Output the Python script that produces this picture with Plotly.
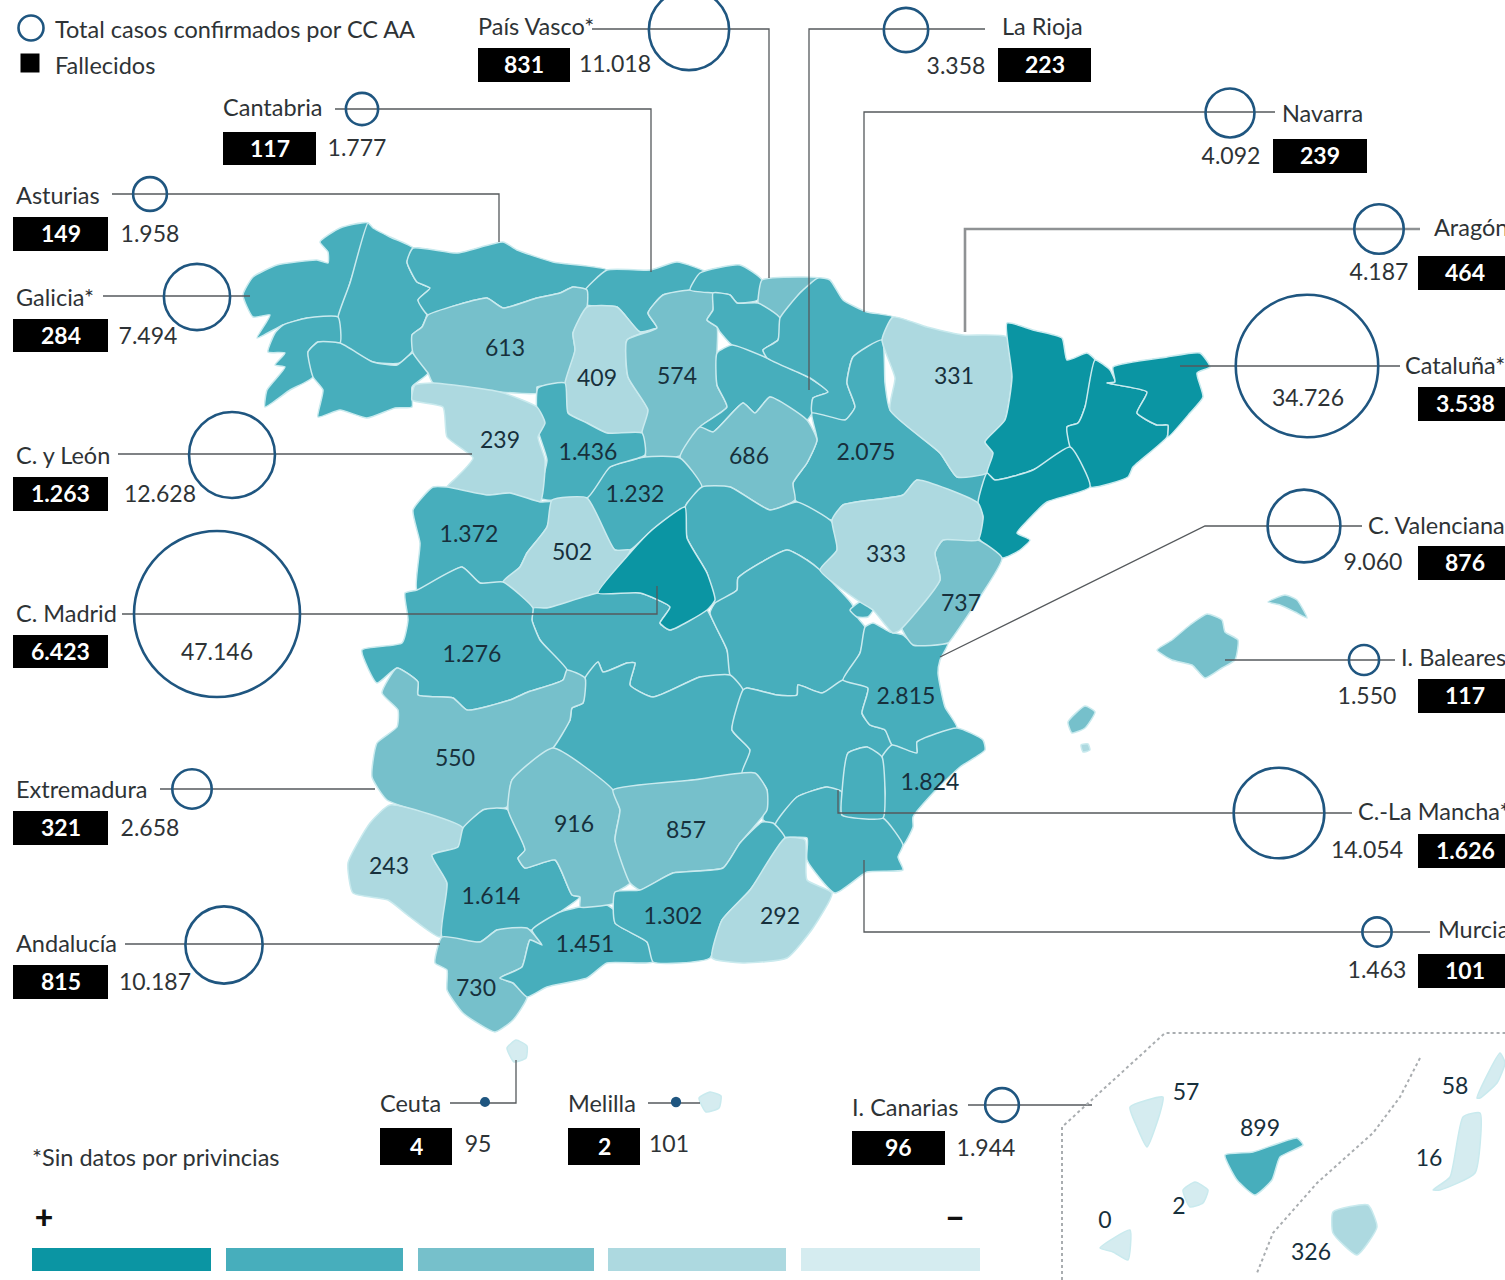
import math
import plotly.graph_objects as go

# ---------- categories and values ----------
ccaa_names = ["Asturias", "Cantabria", "País Vasco*", "La Rioja", "Navarra", "Aragón", "Cataluña*", "C. Valenciana",
              "I. Baleares", "C.-La Mancha*", "Murcia", "Galicia*", "C. y León", "C. Madrid", "Extremadura",
              "Andalucía", "Ceuta", "Melilla", "I. Canarias"]
ccaa_deaths = ["149", "117", "831", "223", "239", "464", "3.538", "876", "117", "1.626", "101", "284", "1.263",
               "6.423", "321", "815", "4", "2", "96"]
ccaa_cases = [1958, 1777, 11018, 3358, 4092, 4187, 34726, 9060, 1550, 14054, 1463, 7494, 12628, 47146, 2658, 10187,
              95, 101, 1944]
ccaa_case_labels = ["1.958", "1.777", "11.018", "3.358", "4.092", "4.187", "34.726", "9.060", "1.550", "14.054",
                    "1.463", "7.494", "12.628", "47.146", "2.658", "10.187", "95", "101", "1.944"]

# name label left edge / middle
name_x = [16, 223, 478, 1002, 1282, 1434, 1405, 1368, 1401, 1358, 1438, 16, 16, 16, 16, 16, 380, 568, 852]
name_y = [196, 108, 27, 27, 114, 228, 366, 526, 658, 812, 930, 298, 456, 614, 790, 944, 1104, 1104, 1108]
# circle centres
circle_x = [150, 362, 689, 906, 1230, 1379, 1307, 1304, 1364, 1279, 1377, 197, 232, 217, 192, 224, 485, 676, 1002]
circle_y = [194, 109, 30, 30, 113, 229, 366, 526, 660, 813, 932, 297, 455, 614, 789, 945, 1102, 1102, 1105]
# case label centres
case_x = [150, 357, 615, 956, 1231, 1379, 1308, 1373, 1367, 1367, 1377, 148, 160, 217, 150, 155, 478, 669, 986]
case_y = [234, 148, 64, 66, 156, 272, 398, 562, 696, 850, 970, 336, 494, 652, 828, 982, 1144, 1144, 1148]
# black boxes: left, right, top, bottom
box_x0 = [13, 223, 478, 998, 1273, 1418, 1418, 1418, 1418, 1418, 1418, 13, 13, 13, 13, 13, 380, 568, 852]
box_x1 = [108, 316, 570, 1091, 1367, 1512, 1512, 1512, 1512, 1512, 1512, 108, 108, 108, 108, 108, 452, 640, 945]
box_y0 = [217, 132, 48, 48, 139, 256, 387, 546, 679, 834, 954, 319, 477, 635, 811, 965, 1128, 1128, 1131]
box_y1 = [251, 165, 82, 82, 173, 290, 421, 580, 713, 868, 988, 352, 511, 668, 845, 999, 1165, 1165, 1165]

leader_lines = [
    [(112, 194), (499, 194), (499, 242)],
    [(335, 109), (651, 109), (651, 272)],
    [(592, 29), (769, 29), (769, 278)],
    [(985, 29), (809, 29), (809, 390)],
    [(1275, 112), (864, 112), (864, 312)],
    [(1400, 366), (1180, 366)],
    [(1362, 526), (1205, 526), (940, 657)],
    [(1395, 660), (1225, 660)],
    [(1352, 813), (838, 813), (838, 790)],
    [(1430, 932), (864, 932), (864, 860)],
    [(103, 296), (250, 296)],
    [(118, 454), (472, 454)],
    [(122, 614), (657, 614), (657, 586)],
    [(160, 789), (375, 789)],
    [(125, 944), (440, 944)],
    [(450, 1103), (516, 1103), (516, 1060)],
    [(648, 1103), (700, 1103)],
    [(968, 1105), (1092, 1105)],
]
aragon_line = [(1420, 229), (965, 229), (965, 332)]

province_labels = ["613", "409", "574", "331", "686", "2.075", "239", "1.436", "1.232", "1.372", "502", "333", "737",
                   "1.276", "2.815", "550", "916", "857", "1.824", "243", "1.614", "1.302", "292", "1.451", "730",
                   "57", "899", "58", "16", "2", "0", "326"]
province_label_x = [505, 597, 677, 954, 749, 866, 500, 588, 635, 469, 572, 886, 961, 472, 906, 455, 574, 686, 930,
                    389, 491, 673, 780, 585, 476, 1186, 1260, 1455, 1429, 1179, 1105, 1311]
province_label_y = [348, 378, 376, 376, 456, 452, 440, 452, 494, 534, 552, 554, 603, 654, 696, 758, 824, 830, 782,
                    866, 896, 916, 916, 944, 988, 1092, 1128, 1086, 1158, 1206, 1220, 1252]

# ---------- map outlines (level 5 = most cases, 1 = fewest) ----------
provinces = [
    ("A Coruña", 4, [(243,295),(253,277),(277,265),(317,260),(328,263),(328,252),(320,242),(340,228),(368,223),(350,283),(338,317),(307,318),(283,325),(257,338),(270,315),(253,317)]),
    ("Lugo", 4, [(368,223),(373,228),(390,237),(413,248),(407,262),(417,282),(430,288),(418,300),(427,313),(422,327),(412,335),(413,350),(400,363),(373,362),(340,343),(338,317),(350,283)]),
    ("Pontevedra", 4, [(338,317),(340,343),(318,342),(308,352),(313,377),(290,390),(265,407),(267,390),(285,367),(275,365),(285,353),(268,352),(275,333),(283,325),(307,318)]),
    ("Ourense", 4, [(318,342),(340,343),(373,362),(397,365),(413,353),(428,373),(412,387),(412,407),(395,408),(367,418),(340,410),(318,417),(323,390),(313,377),(308,352)]),
    ("Asturias", 4, [(413,248),(457,253),(503,242),(517,250),(553,262),(607,270),(587,290),(573,287),(560,293),(537,298),(503,308),(487,298),(457,305),(428,315),(418,300),(430,288),(417,282),(407,262)]),
    ("Cantabria", 4, [(607,270),(650,270),(677,262),(707,273),(690,290),(663,295),(648,313),(657,328),(640,332),(617,307),(587,305),(583,293)]),
    ("León", 3, [(428,315),(457,305),(487,298),(503,308),(537,298),(560,293),(573,287),(587,290),(587,307),(573,333),(575,350),(565,383),(537,387),(537,393),(500,392),(433,383),(428,373),(413,353),(412,335),(422,327)]),
    ("Palencia", 2, [(587,307),(617,307),(640,332),(657,328),(627,340),(628,377),(648,410),(642,432),(607,433),(587,423),(568,413),(565,383),(575,350),(573,333)]),
    ("Burgos", 3, [(657,328),(648,313),(663,295),(690,290),(713,293),(713,310),(707,320),(717,327),(717,353),(717,385),(727,407),(700,427),(683,455),(647,458),(642,432),(648,410),(628,377),(627,340)]),
    ("Bizkaia", 4, [(690,290),(700,273),(740,265),(762,280),(758,300),(737,303),(730,295),(713,293)]),
    ("Gipuzkoa", 3, [(762,280),(800,277),(818,278),(800,293),(780,318),(758,303),(758,300)]),
    ("Álava", 4, [(713,293),(730,295),(737,303),(758,303),(780,318),(778,340),(763,350),(767,358),(732,345),(720,332),(717,327),(707,320),(713,310)]),
    ("La Rioja", 4, [(717,353),(732,345),(767,358),(810,378),(828,392),(813,398),(812,413),(807,420),(770,397),(755,413),(743,403),(713,432),(700,427),(727,407),(717,385)]),
    ("Navarra", 4, [(818,278),(830,280),(843,300),(867,312),(893,317),(882,340),(853,357),(847,383),(855,407),(845,420),(812,413),(813,398),(828,392),(810,378),(767,358),(763,350),(778,340),(780,318),(800,293)]),
    ("Zaragoza", 4, [(853,357),(882,340),(885,383),(890,410),(940,453),(957,477),(987,473),(978,503),(917,480),(903,495),(843,505),(832,520),(795,500),(793,483),(807,463),(817,440),(812,413),(845,420),(855,407),(847,383)]),
    ("Huesca", 2, [(893,317),(927,327),(963,335),(1007,337),(1012,377),(1005,420),(985,442),(993,453),(987,473),(957,477),(940,453),(890,410),(895,378),(882,340)]),
    ("Lleida", 5, [(1007,323),(1033,330),(1062,338),(1067,360),(1087,353),(1095,360),(1085,407),(1078,423),(1067,427),(1070,447),(1033,470),(995,480),(987,473),(993,453),(985,442),(1005,420),(1012,377)]),
    ("Barcelona", 5, [(1095,360),(1110,370),(1115,382),(1107,383),(1147,392),(1137,413),(1157,425),(1168,425),(1167,437),(1133,467),(1128,477),(1090,487),(1070,447),(1067,427),(1078,423),(1085,407)]),
    ("Girona", 5, [(1113,367),(1167,357),(1200,353),(1210,367),(1197,373),(1203,397),(1190,413),(1168,437),(1168,425),(1157,425),(1137,413),(1147,392),(1107,383),(1115,382)]),
    ("Tarragona", 5, [(995,480),(1033,470),(1070,447),(1090,487),(1047,502),(1028,520),(1017,533),(1030,540),(1020,550),(1002,558),(978,537),(983,517),(978,503),(987,473)]),
    ("Soria", 3, [(713,432),(743,403),(755,413),(770,397),(807,420),(817,440),(807,463),(793,483),(795,500),(770,510),(730,487),(702,487),(680,457),(700,427)]),
    ("Segovia", 4, [(587,498),(610,467),(645,457),(680,458),(702,487),(687,503),(685,507),(652,530),(630,550),(615,550)]),
    ("Valladolid", 4, [(538,388),(565,383),(568,413),(587,423),(607,433),(642,433),(645,455),(610,467),(587,498),(540,498),(547,460),(538,430)]),
    ("Zamora", 2, [(412,400),(415,385),(433,383),(500,392),(537,407),(545,423),(538,437),(545,460),(540,502),(510,493),(488,495),(447,487),(457,477),(473,458),(447,437),(443,407)]),
    ("Salamanca", 4, [(413,510),(433,487),(447,487),(488,495),(510,493),(540,502),(552,502),(547,527),(527,553),(520,567),(503,582),(480,583),(462,567),(417,590),(420,543)]),
    ("Ávila", 2, [(552,500),(587,498),(615,550),(630,550),(598,593),(547,608),(533,608),(503,582),(520,567),(527,553),(547,527)]),
    ("Guadalajara", 4, [(685,507),(702,487),(730,487),(770,510),(797,502),(832,522),(837,550),(820,570),(807,560),(787,550),(738,578),(737,590),(715,603),(707,573),(687,538)]),
    ("Toledo", 4, [(533,608),(547,608),(598,593),(640,593),(670,607),(660,623),(670,630),(707,610),(710,615),(727,650),(730,677),(700,677),(653,697),(630,685),(635,663),(627,663),(603,672),(598,662),(585,678),(567,670),(540,640),(532,620)]),
    ("Madrid", 5, [(685,507),(687,538),(707,573),(715,600),(707,610),(670,630),(660,623),(670,607),(640,593),(598,593),(630,553),(652,530)]),
    ("Cuenca", 4, [(710,613),(715,603),(737,590),(738,578),(787,550),(807,560),(820,570),(852,604),(857,617),(865,627),(860,653),(843,680),(822,693),(798,685),(797,695),(777,695),(747,688),(743,690),(730,675),(727,650)]),
    ("Ciudad Real", 4, [(585,678),(598,662),(603,672),(627,663),(635,663),(630,685),(653,697),(700,677),(730,675),(743,690),(732,730),(750,750),(743,773),(693,780),(613,790),(553,748),(570,720),(572,708),(583,703)]),
    ("Albacete", 4, [(743,690),(747,688),(777,695),(797,695),(798,685),(822,693),(843,680),(868,688),(862,713),(870,725),(885,730),(892,745),(882,757),(867,747),(848,753),(842,792),(827,787),(797,797),(775,825),(763,820),(767,790),(757,777),(742,773),(750,750),(732,730)]),
    ("Ademuz", 4, [(850,610),(860,602),(873,610),(868,617),(857,617)]),
    ("Valencia", 4, [(865,627),(873,623),(890,632),(903,635),(913,643),(948,643),(940,660),(938,673),(945,707),(957,728),(917,742),(917,753),(892,745),(885,730),(870,725),(862,713),(868,688),(843,680),(860,653)]),
    ("Castellón", 3, [(943,540),(978,540),(1002,558),(980,597),(953,637),(948,643),(913,645),(900,623),(940,580),(935,553)]),
    ("Teruel", 2, [(917,480),(978,503),(983,517),(978,540),(943,540),(935,553),(940,580),(900,630),(893,633),(873,610),(860,602),(820,570),(837,550),(832,520),(843,505),(903,495)]),
    ("Alicante", 4, [(957,728),(983,740),(985,750),(960,767),(933,793),(913,817),(913,827),(903,845),(883,818),(885,793),(882,757),(892,745),(917,753),(917,742)]),
    ("Murcia", 4, [(883,818),(903,845),(898,857),(903,870),(867,872),(835,893),(807,860),(807,838),(782,837),(775,825),(797,797),(827,787),(842,792),(842,815)]),
    ("Murcia-norte", 4, [(848,753),(867,747),(882,757),(885,793),(883,818),(842,815),(842,792)]),
    ("Cáceres", 4, [(462,567),(480,583),(503,582),(533,608),(532,620),(540,640),(567,670),(563,680),(528,692),(510,700),(467,710),(453,698),(418,695),(418,682),(397,668),(377,683),(362,650),(402,643),(408,620),(405,593),(417,590)]),
    ("Badajoz", 3, [(397,668),(418,682),(418,695),(453,698),(467,710),(510,700),(528,692),(563,680),(567,670),(585,678),(583,703),(572,708),(570,720),(553,748),(512,780),(507,807),(483,810),(463,828),(423,813),(387,800),(372,777),(377,743),(397,727),(398,710),(382,693)]),
    ("Huelva", 2, [(390,805),(463,828),(458,847),(432,855),(447,883),(440,937),(410,917),(388,900),(353,893),(348,863),(370,823)]),
    ("Sevilla", 4, [(432,855),(458,847),(463,828),(483,810),(497,808),(508,810),(525,850),(518,858),(525,868),(555,860),(572,895),(580,897),(560,912),(532,930),(497,930),(480,942),(442,937),(447,883)]),
    ("Cádiz", 3, [(442,937),(480,942),(497,930),(527,928),(542,945),(530,940),(522,967),(500,978),(513,983),(527,997),(513,1020),(495,1032),(463,1013),(447,990),(447,970),(435,963)]),
    ("Málaga", 4, [(560,912),(580,907),(607,905),(617,913),(615,923),(647,942),(653,962),(607,963),(587,978),(547,987),(527,997),(513,983),(500,978),(522,967),(530,940),(542,945),(532,930)]),
    ("Córdoba", 3, [(553,748),(613,790),(620,810),(615,840),(630,883),(617,892),(615,903),(607,905),(580,907),(580,897),(572,895),(555,860),(525,868),(518,858),(525,850),(508,810),(512,780)]),
    ("Jaén", 3, [(613,790),(693,780),(755,773),(767,790),(767,810),(740,843),(723,868),(673,873),(640,890),(630,883),(615,840),(620,810)]),
    ("Granada", 4, [(615,892),(640,890),(673,873),(723,868),(740,843),(762,822),(773,823),(785,838),(750,890),(722,920),(710,958),(680,963),(653,962),(647,942),(615,923)]),
    ("Almería", 2, [(785,838),(805,840),(807,880),(832,893),(813,928),(787,958),(743,963),(712,958),(722,920),(750,890)]),
    ("Mallorca", 3, [(1157,650),(1172,640),(1190,625),(1207,614),(1222,620),(1225,632),(1238,640),(1235,660),(1222,668),(1205,678),(1192,665),(1172,660)]),
    ("Menorca", 3, [(1268,602),(1285,595),(1297,600),(1307,618),(1295,612),(1280,605)]),
    ("Ibiza", 3, [(1068,722),(1085,706),(1095,712),(1085,728),(1072,733)]),
    ("Formentera", 2, [(1081,745),(1088,744),(1090,750),(1083,752)]),
    ("Ceuta", 1, [(507,1048),(516,1040),(527,1046),(526,1058),(514,1062)]),
    ("Melilla", 1, [(699,1098),(710,1092),(721,1096),(719,1108),(706,1112)]),
    ("Tenerife", 4, [(1225,1155),(1253,1152),(1297,1138),(1303,1145),(1280,1157),(1272,1180),(1255,1195),(1237,1180)]),
    ("La Palma", 1, [(1130,1107),(1163,1097),(1160,1113),(1147,1147),(1137,1127)]),
    ("La Gomera", 1, [(1183,1190),(1195,1182),(1208,1190),(1203,1203),(1190,1207)]),
    ("El Hierro", 1, [(1100,1248),(1130,1230),(1128,1260),(1113,1252)]),
    ("Gran Canaria", 2, [(1333,1212),(1368,1205),(1377,1227),(1357,1255),(1333,1233)]),
    ("Fuerteventura", 1, [(1433,1190),(1450,1177),(1463,1117),(1480,1113),(1475,1173),(1440,1190)]),
    ("Lanzarote", 1, [(1477,1098),(1500,1053),(1505,1063),(1497,1083),(1480,1098)]),
]
level_colors = {5: "#0b95a3", 4: "#47aebc", 3: "#76c0cb", 2: "#add9e0", 1: "#d5ecf0"}
legend_levels = [5, 4, 3, 2, 1]
legend_bar_x0 = [32, 226, 418, 608, 801]
legend_bar_x1 = [211, 403, 594, 786, 980]

canary_frame = [(1062, 1280), (1062, 1127), (1165, 1033), (1505, 1033)]
canary_split = [(1420, 1058), (1400, 1097), (1373, 1133), (1317, 1183), (1273, 1233), (1257, 1273)]

FONT = "Lato"
TEXT = "#2e3336"
NUM = "#17303c"
NAVY = "#1f5680"
MAX_CASES = 47146
MAX_DIAMETER = 166

fig = go.Figure()

for name, level, outline in provinces:
    fig.add_trace(go.Scatter(x=[p[0] for p in outline] + [outline[0][0]],
                             y=[p[1] for p in outline] + [outline[0][1]],
                             mode="lines", fill="toself", fillcolor=level_colors[level],
                             line=dict(color="#c9eaee", width=1.5, shape="spline", smoothing=0.5),
                             hoverinfo="skip", name=name))

for line in leader_lines:
    fig.add_trace(go.Scatter(x=[p[0] for p in line], y=[p[1] for p in line], mode="lines",
                             line=dict(color="#55595c", width=1.3), hoverinfo="skip"))
fig.add_trace(go.Scatter(x=[p[0] for p in aragon_line], y=[p[1] for p in aragon_line], mode="lines",
                         line=dict(color="#8f9294", width=2.6), hoverinfo="skip"))

for line in (canary_frame, canary_split):
    fig.add_trace(go.Scatter(x=[p[0] for p in line], y=[p[1] for p in line], mode="lines",
                             line=dict(color="#a9adb0", width=2, dash="dot"), hoverinfo="skip"))

# circles, scaled by area from the case counts
sizes = [MAX_DIAMETER * math.sqrt(v / MAX_CASES) for v in ccaa_cases]
fig.add_trace(go.Scatter(x=circle_x, y=circle_y, mode="markers", hoverinfo="skip",
                         marker=dict(size=sizes, opacity=1,
                                     color=[NAVY if v < 200 else "rgba(0,0,0,0)" for v in ccaa_cases],
                                     line=dict(color=NAVY, width=2.6))))
# legend symbols
fig.add_trace(go.Scatter(x=[31], y=[28], mode="markers", hoverinfo="skip",
                         marker=dict(size=25, opacity=1, color="rgba(0,0,0,0)", line=dict(color=NAVY, width=2.6))))
fig.add_trace(go.Scatter(x=[30], y=[63], mode="markers", hoverinfo="skip",
                         marker=dict(size=19, opacity=1, symbol="square", color="#000000")))

shapes = []
for x0, x1, y0, y1 in zip(box_x0, box_x1, box_y0, box_y1):
    shapes.append(dict(type="rect", xref="x", yref="y", x0=x0, x1=x1, y0=y0, y1=y1,
                       fillcolor="#000000", line=dict(width=0), layer="above"))
for lvl, x0, x1 in zip(legend_levels, legend_bar_x0, legend_bar_x1):
    shapes.append(dict(type="rect", xref="x", yref="y", x0=x0, x1=x1, y0=1248, y1=1271,
                       fillcolor=level_colors[lvl], line=dict(width=0), layer="above"))

TEXT_DY = 2

def text_trace(x, y, text, size=23, color=TEXT, pos="middle center", weight=400):
    fig.add_trace(go.Scatter(x=x, y=[v + TEXT_DY for v in y], text=text, mode="text", textposition=pos,
                             hoverinfo="skip", textfont=dict(family=FONT, size=size, color=color, weight=weight)))

text_trace(name_x, name_y, ccaa_names, size=23.5, pos="middle right")
text_trace(case_x, case_y, ccaa_case_labels)
text_trace(province_label_x, province_label_y, province_labels, color=NUM)

legend_text = ["Total casos confirmados por CC AA", "Fallecidos", "*Sin datos por privincias"]
text_trace([55, 55, 32], [30, 66, 1158], legend_text, size=23.5, pos="middle right")
text_trace([44, 955], [1219, 1219], ["+", "−"], size=32, color="#111111", weight=900)

annotations = []
for label, x0, x1, y0, y1 in zip(ccaa_deaths, box_x0, box_x1, box_y0, box_y1):
    annotations.append(dict(x=(x0 + x1) / 2, y=(y0 + y1) / 2 - 1, xref="x", yref="y", text=f"<b>{label}</b>",
                            showarrow=False, font=dict(family=FONT, size=23, color="#ffffff")))

fig.update_layout(
    width=1505, height=1280, margin=dict(l=0, r=0, t=0, b=0),
    paper_bgcolor="#ffffff", plot_bgcolor="#ffffff", showlegend=False, shapes=shapes, annotations=annotations,
    xaxis=dict(range=[0, 1505], visible=False, fixedrange=True),
    yaxis=dict(range=[1280, 0], visible=False, fixedrange=True),
)

fig.write_html("out.html", config={"displayModeBar": False},
               post_script="document.body.style.margin='0';document.body.style.overflow='hidden';")
